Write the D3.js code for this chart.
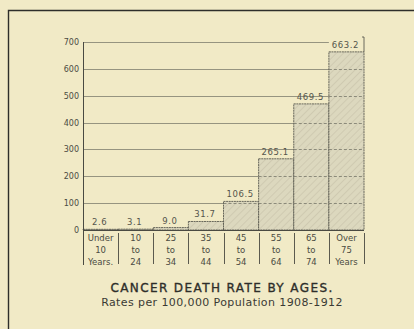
<!DOCTYPE html>
<html><head><meta charset="utf-8">
<script src="https://cdn.jsdelivr.net/npm/d3@7/dist/d3.min.js"></script>
<style>
html,body{margin:0;padding:0;background:#f1eac6;}
svg{display:block;}
text{font-family:"DejaVu Sans",sans-serif;fill:#3a3a34;}
</style></head><body>
<svg id="c" width="414" height="329"></svg>
<script>
const categories = ["Under 10", "10 to 24", "25 to 34", "35 to 44", "45 to 54", "55 to 64", "65 to 74", "Over 75"];
const catLine1 = ["Under", "10", "25", "35", "45", "55", "65", "Over"];
const catLine2 = ["10", "to", "to", "to", "to", "to", "to", "75"];
const catLine3 = ["Years.", "24", "34", "44", "54", "64", "74", "Years"];
const rates = [2.6, 3.1, 9.0, 31.7, 106.5, 265.1, 469.5, 663.2];
const rateLabels = ["2.6", "3.1", "9.0", "31.7", "106.5", "265.1", "469.5", "663.2"];
const yTicks = [0, 100, 200, 300, 400, 500, 600, 700];
const title = "CANCER DEATH RATE BY AGES.";
const subtitle = "Rates per 100,000 Population 1908-1912";

const svg = d3.select("#c");
const ink = "#4a4a42";

// outer frame (left and top edges)
svg.append("path").attr("d","M8.5,329 L8.5,10.5 L414,10.5").attr("fill","none").attr("stroke","#2e2e2a").attr("stroke-width",1.4);

const x = d3.scaleBand().domain(categories).range([83, 364]).padding(0);
const y = d3.scaleLinear().domain([0, 700]).range([230, 42]);

const defs = svg.append("defs");
const pat = defs.append("pattern").attr("id","hatch").attr("patternUnits","userSpaceOnUse")
  .attr("width",5).attr("height",5).attr("patternTransform","rotate(45)");
pat.append("rect").attr("width",5).attr("height",5).attr("fill","#dcd8be");
pat.append("line").attr("x1",0).attr("y1",0).attr("x2",0).attr("y2",5).attr("stroke","#c2bda4").attr("stroke-width",1);

// gridlines
const grid = svg.append("g");
yTicks.filter(t => t > 0).forEach(t => {
  const xEnd = t === 700 ? x(categories[categories.length-1]) : x.range()[1];
  grid.append("line").attr("x1", x.range()[0]).attr("x2", xEnd)
    .attr("y1", Math.round(y(t))+0.5).attr("y2", Math.round(y(t))+0.5)
    .attr("stroke", "#6e6e62").attr("stroke-width", 0.7);
});

// bars
svg.append("g").selectAll("rect").data(rates).join("rect")
  .attr("x", (d,i) => x(categories[i]))
  .attr("width", x.bandwidth())
  .attr("y", d => y(d))
  .attr("height", d => y(0) - y(d))
  .attr("fill", "url(#hatch)")
  .attr("stroke", "#5a5a50")
  .attr("stroke-width", 0.9)
  .attr("stroke-dasharray", "2,0.6");

// dashed gridlines through bars
yTicks.filter(t => t > 0).forEach(t => {
  rates.forEach((r,i) => {
    if (r > t) {
      svg.append("line").attr("x1", x(categories[i])).attr("x2", x(categories[i]) + x.bandwidth())
        .attr("y1", Math.round(y(t))+0.5).attr("y2", Math.round(y(t))+0.5)
        .attr("stroke", "#77776a").attr("stroke-width", 0.8).attr("stroke-dasharray", "3,2");
    }
  });
});

// bracket above last bar
const lastX = x(categories[categories.length-1]) + x.bandwidth();
svg.append("path").attr("d", `M${lastX-2},${y(700)-5} L${lastX},${y(700)-5} L${lastX},${y(rates[rates.length-1])}`)
  .attr("fill","none").attr("stroke",ink).attr("stroke-width",0.8);

// value labels
svg.append("g").selectAll("text").data(rates).join("text")
  .attr("x", (d,i) => x(categories[i]) + x.bandwidth()/2 - 1)
  .attr("y", d => y(d) - 4)
  .attr("text-anchor","middle").attr("font-size", 8.5).attr("letter-spacing", 0.6)
  .style("fill", "#55554c")
  .text((d,i) => rateLabels[i]);

// y axis
svg.append("line").attr("x1", 83.5).attr("x2", 83.5).attr("y1", y(700)).attr("y2", 265)
  .attr("stroke", ink).attr("stroke-width", 1);
svg.append("line").attr("x1", 83).attr("x2", 364).attr("y1", 230.5).attr("y2", 230.5)
  .attr("stroke", ink).attr("stroke-width", 1);
svg.append("g").selectAll("text").data(yTicks).join("text")
  .attr("x", 79).attr("y", d => y(d) + 3)
  .attr("text-anchor","end").attr("font-size", 8)
  .style("fill", "#4a4a42")
  .text(d => d);

// category separators
categories.slice(1).concat(["_end"]).forEach((c,i) => {
  const xx = c === "_end" ? x.range()[1] : x(c);
  svg.append("line").attr("x1", Math.round(xx)+0.5).attr("x2", Math.round(xx)+0.5)
    .attr("y1", 233).attr("y2", 264).attr("stroke", ink).attr("stroke-width", 0.9);
});

// category labels
const lines = [catLine1, catLine2, catLine3];
lines.forEach((arr, li) => {
  svg.append("g").selectAll("text").data(arr).join("text")
    .attr("x", (d,i) => x(categories[i]) + x.bandwidth()/2)
    .attr("y", 241 + li*12)
    .attr("text-anchor","middle").attr("font-size", 8.5)
    .style("fill", "#4a4a42")
    .text(d => d);
});

// title
svg.append("text").attr("x", 222).attr("y", 292).attr("text-anchor","middle")
  .attr("font-size", 12).attr("letter-spacing", 1.4)
  .style("fill","#2e2e2a").style("stroke","#2e2e2a").style("stroke-width",0.35).text(title);
svg.append("text").attr("x", 222).attr("y", 306).attr("text-anchor","middle")
  .attr("font-size", 11).attr("letter-spacing", 0.4).style("fill","#3a3a34").text(subtitle);
</script>
</body></html>
